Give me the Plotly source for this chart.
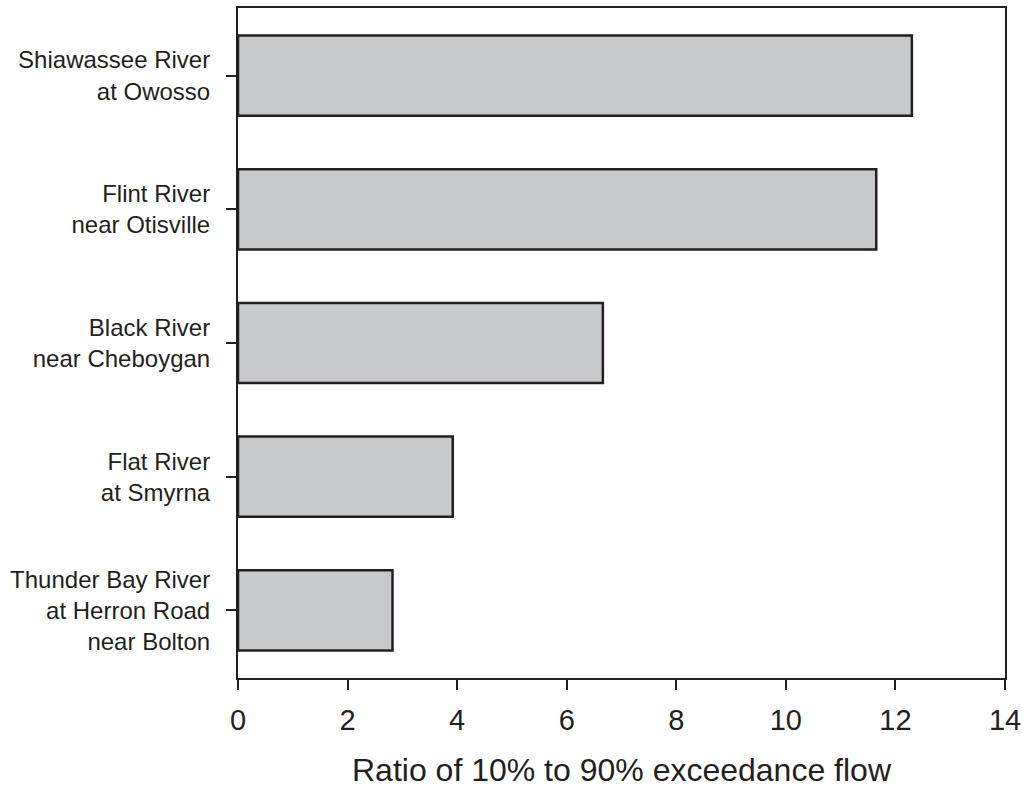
import plotly.graph_objects as go

# Streamflow-gaging stations (top to bottom) and their flow-duration ratios
stations = [
    "Shiawassee River<br>at Owosso",
    "Flint River<br>near Otisville",
    "Black River<br>near Cheboygan",
    "Flat River<br>at Smyrna",
    "Thunder Bay River<br>at Herron Road<br>near Bolton",
]
ratios = [12.30, 11.65, 6.66, 3.92, 2.82]
x_ticks = [0, 2, 4, 6, 8, 10, 12, 14]

INK = "#231f20"
FONT = "Liberation Sans, Arial, Helvetica, sans-serif"

fig = go.Figure(
    go.Bar(
        x=ratios,
        y=stations,
        orientation="h",
        width=0.6,
        marker=dict(color="#c8c9cb", line=dict(color=INK, width=2.5)),
        hoverinfo="skip",
    )
)

fig.update_layout(
    width=1028,
    height=796,
    margin=dict(l=238, r=23, t=6, b=118),
    paper_bgcolor="white",
    plot_bgcolor="white",
    showlegend=False,
    font=dict(family=FONT, color=INK),
)

fig.update_xaxes(
    range=[0, 14],
    tickvals=x_ticks,
    ticks="outside",
    ticklen=10,
    tickwidth=2,
    tickcolor=INK,
    showline=True,
    linecolor=INK,
    linewidth=2,
    mirror=True,
    showgrid=False,
    zeroline=False,
    tickfont=dict(size=29, family=FONT, color=INK),
    ticklabelstandoff=5,
    title=dict(
        text="Ratio of 10% to 90% exceedance flow",
        font=dict(size=32, family=FONT, color=INK),
        standoff=24,
    ),
)

fig.update_yaxes(
    categoryorder="array",
    categoryarray=stations[::-1],
    range=[-0.505, 4.505],
    ticks="outside",
    ticklen=10,
    tickwidth=2,
    tickcolor=INK,
    showline=True,
    linecolor=INK,
    linewidth=2,
    mirror=True,
    showgrid=False,
    zeroline=False,
    tickfont=dict(size=24, family=FONT, color=INK),
    ticklabelstandoff=11,
)

fig.write_html("out.html")
